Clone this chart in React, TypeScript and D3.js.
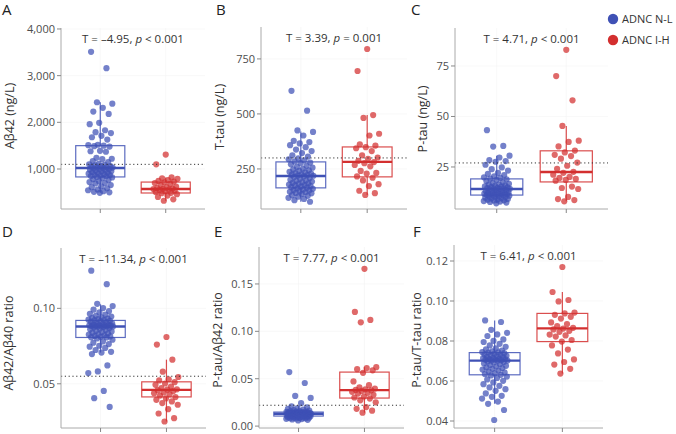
import React from 'react';
import * as d3 from 'd3';

const GROUPS = ['ADNC N-L', 'ADNC I-H'];
const COLORS = ['#3f51b5', '#d32f2f'];
const FONT = '"Open Sans", "DejaVu Sans", sans-serif';

// A: Abeta42 (ng/L)
const ab42NL = [3510, 3160, 2430, 2400, 2310, 2230, 2180, 1990, 1960, 1830, 1790, 1770, 1710, 1680, 1630, 1520, 1510, 1500, 1490, 1480,
  1390, 1380, 1370, 1240, 1220, 1210, 1170, 1150, 1110, 1100, 1090, 1080, 1060, 1060, 1050, 1040, 1030, 1030, 1020,
  1010, 1000, 990, 985, 970, 960, 950, 945, 930, 915, 905, 900, 890, 880, 870, 860, 850, 845, 830,
  820, 805, 780, 765, 740, 720, 700, 690, 655, 630, 610, 585, 560, 545, 525, 510, 500, 490];
const ab42IH = [1310, 1100, 820, 800, 790, 760, 745, 730, 715, 700, 680, 655, 625, 610, 590, 580, 575, 570, 560, 550,
  540, 525, 505, 490, 480, 460, 430, 400, 350, 320];
const ab42Box = [[490, 830, 1020, 1500, 2430], [320, 486, 571, 720, 820]];
const ab42Ticks = [1000, 2000, 3000, 4000];

// B: T-tau (ng/L)
const ttauNL = [605, 515, 425, 418, 402, 378, 372, 366, 358, 349, 338, 331, 322, 312, 306, 298, 294, 289, 284,
  279, 276, 271, 264, 259, 256, 251, 248, 244, 241, 237, 235, 231, 229, 226, 224, 222, 220, 219,
  216, 213, 209, 206, 201, 198, 196, 193, 190, 187, 184, 182, 179, 177, 175, 172, 170, 167, 165,
  162, 160, 157, 154, 152, 149, 146, 144, 141, 139, 136, 131, 128, 124, 119, 114, 108, 101];
const ttauIH = [795, 695, 495, 482, 410, 402, 362, 356, 349, 344, 331, 312, 302, 296, 287, 281, 276, 268, 262, 241,
  232, 229, 216, 210, 198, 181, 172, 151, 140, 132];
const ttauBox = [[101, 164, 218, 282, 420], [132, 214, 282, 350, 495]];
const ttauTicks = [250, 500, 750];

// C: P-tau (ng/L)
const ptauNL = [43.2, 35.4, 35.1, 30.6, 29.7, 28.4, 27.9, 27.6, 26.1, 24.8, 23.9, 23.2, 22.1, 21.6, 21.0, 20.4, 19.9, 19.6, 19.2,
  18.9, 18.6, 18.1, 17.4, 17.1, 16.7, 16.4, 16.3, 15.9, 15.7, 15.4, 15.3, 15.0, 14.9, 14.7, 14.5, 14.4, 14.3, 14.2,
  14.0, 13.8, 13.5, 13.4, 13.1, 12.9, 12.8, 12.5, 12.4, 12.1, 12.0, 11.9, 11.8, 11.6, 11.6, 11.5, 11.4, 11.2, 11.1,
  10.9, 10.8, 10.5, 10.4, 10.1, 10.0, 9.8, 9.5, 9.4, 9.2, 8.9, 8.8, 8.5, 8.4, 8.1, 7.9, 7.7, 7.4, 7.0];
const ptauIH = [83, 70, 58, 45.3, 38, 37.4, 35.2, 33.1, 32.2, 31.0, 30.4, 29.1, 27.2, 25.6, 24.1, 22.6, 22.1, 21.2, 20.1, 19.6,
  19.1, 18.6, 18.2, 15.3, 14.6, 14.1, 10.2, 9.1, 8.6, 8.0];
const ptauBox = [[7.0, 11.1, 14.1, 19.1, 30.6], [8.0, 17.6, 22.5, 33, 45.3]];
const ptauTicks = [25, 50, 75];

// D: Abeta42/Abeta40 ratio
const ab4240NL = [0.125, 0.116, 0.103, 0.1015, 0.1002, 0.0991, 0.0982, 0.0973, 0.0964, 0.0958, 0.0951, 0.0946, 0.0941, 0.0936, 0.0932, 0.0929, 0.0925, 0.0922, 0.092,
  0.0917, 0.0914, 0.0911, 0.0907, 0.0904, 0.0901, 0.0897, 0.0894, 0.0892, 0.0889, 0.0888, 0.0886, 0.0885, 0.0884, 0.0883, 0.0882, 0.0881, 0.088, 0.088,
  0.0877, 0.0874, 0.0869, 0.0865, 0.0861, 0.0856, 0.0851, 0.0847, 0.0844, 0.0839, 0.0834, 0.0829, 0.0826, 0.0821, 0.0817, 0.0814, 0.0811, 0.0808, 0.0807,
  0.0801, 0.0792, 0.0781, 0.0772, 0.0763, 0.0752, 0.0746, 0.0738, 0.0724, 0.0712, 0.0707, 0.0697, 0.0622, 0.0582, 0.0571, 0.0453, 0.0405, 0.0347];
const ab4240IH = [0.081, 0.076, 0.066, 0.058, 0.0545, 0.053, 0.0522, 0.0511, 0.0502, 0.0493, 0.0482, 0.0471, 0.0463, 0.0461, 0.0458,
  0.0452, 0.0443, 0.0438, 0.0431, 0.0422, 0.0412, 0.0403, 0.0394, 0.0383, 0.0372, 0.0361, 0.0332, 0.0303, 0.0272, 0.025];
const ab4240Box = [[0.0707, 0.0807, 0.088, 0.092, 0.1027], [0.025, 0.0413, 0.046, 0.0513, 0.066]];
const ab4240Ticks = [0.05, 0.1];

// E: P-tau/Abeta42 ratio
const ptauAbNL = [0.057, 0.0455, 0.0318, 0.0297, 0.0242, 0.0208, 0.0198, 0.0189, 0.0181, 0.0174, 0.0168, 0.0163, 0.0159, 0.0156, 0.0154, 0.0152, 0.015, 0.0149, 0.0148,
  0.0146, 0.0144, 0.0142, 0.0141, 0.0139, 0.0138, 0.0137, 0.0136, 0.0135, 0.0134, 0.0134, 0.0133, 0.0132, 0.0132, 0.0131, 0.0131, 0.013, 0.013, 0.013,
  0.0129, 0.0127, 0.0125, 0.0123, 0.0122, 0.012, 0.0119, 0.0117, 0.0116, 0.0114, 0.0113, 0.0112, 0.0111, 0.011, 0.0109, 0.0108, 0.0107, 0.0106, 0.0106,
  0.0105, 0.0103, 0.0101, 0.0099, 0.0098, 0.0096, 0.0094, 0.0092, 0.009, 0.0088, 0.0086, 0.0084, 0.0082, 0.008, 0.0077, 0.0074, 0.007, 0.0066, 0.006];
const ptauAbIH = [0.166, 0.1205, 0.112, 0.1095, 0.0622, 0.0612, 0.0601, 0.0589, 0.0562, 0.0471, 0.0432, 0.0408, 0.0396, 0.0388, 0.0382,
  0.0378, 0.0371, 0.0362, 0.0351, 0.0343, 0.0331, 0.0312, 0.0302, 0.0291, 0.0272, 0.0251, 0.0201, 0.0182, 0.0163, 0.0142];
const ptauAbBox = [[0.006, 0.0106, 0.013, 0.0148, 0.021], [0.0142, 0.0296, 0.038, 0.057, 0.0622]];
const ptauAbTicks = [0, 0.05, 0.1, 0.15];

// F: P-tau/T-tau ratio
const ptauTtauNL = [0.0903, 0.0895, 0.0856, 0.0841, 0.0833, 0.0825, 0.0808, 0.0801, 0.0795, 0.0786, 0.0778, 0.0771, 0.0763, 0.0758, 0.0752, 0.0748, 0.0745, 0.0743, 0.0742,
  0.0739, 0.0736, 0.0733, 0.0731, 0.0728, 0.0726, 0.0723, 0.0721, 0.0719, 0.0716, 0.0714, 0.0712, 0.071, 0.0709, 0.0707, 0.0706, 0.0704, 0.0703, 0.0702,
  0.0701, 0.0698, 0.0695, 0.0692, 0.0688, 0.0684, 0.068, 0.0676, 0.0672, 0.0668, 0.0665, 0.0661, 0.0657, 0.0652, 0.0648, 0.0643, 0.0639, 0.0635, 0.0631,
  0.0628, 0.0622, 0.0615, 0.0608, 0.0601, 0.0593, 0.0584, 0.0576, 0.0568, 0.0559, 0.0551, 0.0538, 0.0526, 0.0521, 0.0512, 0.0497, 0.0486, 0.0455, 0.0405];
const ptauTtauIH = [0.117, 0.1045, 0.1005, 0.0998, 0.0942, 0.0938, 0.0931, 0.0921, 0.0912, 0.0893, 0.0885, 0.0874, 0.0866, 0.0862, 0.0858,
  0.0851, 0.0846, 0.0832, 0.0828, 0.0822, 0.0805, 0.0797, 0.0778, 0.0757, 0.0738, 0.0708, 0.0695, 0.0682, 0.0661, 0.0637];
const ptauTtauBox = [[0.0486, 0.0631, 0.0702, 0.0742, 0.0903], [0.0637, 0.0797, 0.0863, 0.0938, 0.1045]];
const ptauTtauTicks = [0.04, 0.06, 0.08, 0.1, 0.12];

const PANELS = [
  { letter: 'A', title: 'Aβ42 (ng/L)', stat: ['T = –4.95, ', ' < 0.001'], data: [ab42NL, ab42IH], box: ab42Box, ticks: ab42Ticks, fmt: d3.format(','), cutoff: 1100,
    domain: [143, 4021], x0: 61, x1: 205, y0: 28, y1: 209, lx: 2, ly: 15, tx: 14, ty: 116 },
  { letter: 'B', title: 'T-tau (ng/L)', stat: ['T = 3.39, ', ' = 0.001'], data: [ttauNL, ttauIH], box: ttauBox, ticks: ttauTicks, fmt: d3.format('d'), cutoff: 300,
    domain: [68, 895], x0: 261, x1: 407, y0: 27, y1: 209, lx: 216, ly: 15, tx: 224, ty: 117 },
  { letter: 'C', title: 'P-tau (ng/L)', stat: ['T = 4.71, ', ' < 0.001'], data: [ptauNL, ptauIH], box: ptauBox, ticks: ptauTicks, fmt: d3.format('d'), cutoff: 27,
    domain: [4.2, 93.8], x0: 455, x1: 608, y0: 28, y1: 209, lx: 411, ly: 15, tx: 427, ty: 119 },
  { letter: 'D', title: 'Aβ42/Aβ40 ratio', stat: ['T = –11.34, ', ' < 0.001'], data: [ab4240NL, ab4240IH], box: ab4240Box, ticks: ab4240Ticks, fmt: d3.format('.2f'), cutoff: 0.055,
    domain: [0.0207, 0.14], x0: 61, x1: 206, y0: 248, y1: 428, lx: 2, ly: 237, tx: 13, ty: 343 },
  { letter: 'E', title: 'P-tau/Aβ42 ratio', stat: ['T = 7.77, ', ' < 0.001'], data: [ptauAbNL, ptauAbIH], box: ptauAbBox, ticks: ptauAbTicks, fmt: d3.format('.2f'), cutoff: 0.022,
    domain: [-0.002, 0.189], x0: 259, x1: 404, y0: 247, y1: 428, lx: 214, ly: 237, tx: 222, ty: 340 },
  { letter: 'F', title: 'P-tau/T-tau ratio', stat: ['T = 6.41, ', ' < 0.001'], data: [ptauTtauNL, ptauTtauIH], box: ptauTtauBox, ticks: ptauTtauTicks, fmt: d3.format('.2f'), cutoff: null,
    domain: [0.0365, 0.128], x0: 454, x1: 603, y0: 245, y1: 428, lx: 413, ly: 237, tx: 421, ty: 340 },
];

// deterministic spread of points around the category centre
const jitter = (i: number, g: number) => ((i * 0.6180339887 + g * 0.37 + 0.13) % 1) * 2 - 1;

function Panel({ p }: { p: any }) {
  const x = d3.scalePoint().domain(GROUPS).range([p.x0, p.x1]).padding(0.6);
  const step = x.step();
  const y = d3.scaleLinear().domain(p.domain).range([p.y1, p.y0]);
  const cx = (p.x0 + p.x1) / 2;
  return (
    <g>
      {/* faint grid */}
      {p.ticks.map((t: number) => (
        <line key={'gy' + t} x1={p.x0} x2={p.x1} y1={y(t)} y2={y(t)} stroke="#f3f3f3" strokeWidth={0.6} />
      ))}
      {GROUPS.map(g => (
        <line key={'gx' + g} x1={x(g)} x2={x(g)} y1={p.y0} y2={p.y1} stroke="#f3f3f3" strokeWidth={0.6} />
      ))}

      {/* boxes */}
      {GROUPS.map((g, gi) => {
        const [lo, q1, med, q3, hi] = p.box[gi];
        const c = x(g) as number;
        const bw = step * 0.75;
        return (
          <g key={'b' + g} stroke={COLORS[gi]} fill="none" strokeOpacity={0.85}>
            <line x1={c} x2={c} y1={y(q3)} y2={y(hi)} strokeWidth={1.2} />
            <line x1={c} x2={c} y1={y(q1)} y2={y(lo)} strokeWidth={1.2} />
            <rect x={c - bw / 2} y={y(q3)} width={bw} height={y(q1) - y(q3)} strokeWidth={1.2} />
            <line x1={c - bw / 2} x2={c + bw / 2} y1={y(med)} y2={y(med)} strokeWidth={2.4} strokeOpacity={1} />
          </g>
        );
      })}

      {/* points */}
      {p.data.map((vals: number[], gi: number) =>
        vals.map((v, i) => (
          <circle key={gi + '-' + i} cx={(x(GROUPS[gi]) as number) + jitter(i, gi) * step * 0.19} cy={y(v)} r={3.1}
            fill={COLORS[gi]} fillOpacity={0.72} />
        ))
      )}

      {p.cutoff != null && (
        <line x1={p.x0} x2={p.x1} y1={y(p.cutoff)} y2={y(p.cutoff)} stroke="#333" strokeWidth={1} strokeDasharray="1.2 2.6" />
      )}

      {/* axes */}
      <line x1={p.x0} x2={p.x0} y1={p.y0} y2={p.y1} stroke="#aaa" strokeWidth={1} />
      <line x1={p.x0} x2={p.x1} y1={p.y1} y2={p.y1} stroke="#aaa" strokeWidth={1} />
      {p.ticks.map((t: number) => (
        <g key={'t' + t}>
          <line x1={p.x0 - 4} x2={p.x0} y1={y(t)} y2={y(t)} stroke="#888" />
          <text x={p.x0 - 6} y={y(t)} dy="0.35em" textAnchor="end" fontSize={11} fill="#4d4d4d">{p.fmt(t)}</text>
        </g>
      ))}
      {GROUPS.map(g => (
        <line key={'xt' + g} x1={x(g)} x2={x(g)} y1={p.y1} y2={p.y1 + 4} stroke="#888" />
      ))}

      <text x={cx} y={p.y0 + 15} textAnchor="middle" fontSize={11.5} fill="#333">
        {p.stat[0]}<tspan fontStyle="italic">p</tspan>{p.stat[1]}
      </text>
      <text transform={`translate(${p.tx},${p.ty}) rotate(-90)`} textAnchor="middle" fontSize={12.5} fill="#333">{p.title}</text>
      <text x={p.lx} y={p.ly} fontSize={15} fill="#222">{p.letter}</text>
    </g>
  );
}

export default function App() {
  return (
    <svg width={676} height={434} style={{ position: 'absolute', left: 0, top: 0, background: '#fff' }} fontFamily={FONT}>
      {PANELS.map(p => <Panel key={p.letter} p={p} />)}
      {GROUPS.map((g, i) => (
        <g key={g} transform={`translate(613,${19 + i * 21})`}>
          <circle r={5.2} fill={COLORS[i]} />
          <text x={9} dy="0.35em" fontSize={11} fill="#333">{g}</text>
        </g>
      ))}
    </svg>
  );
}
